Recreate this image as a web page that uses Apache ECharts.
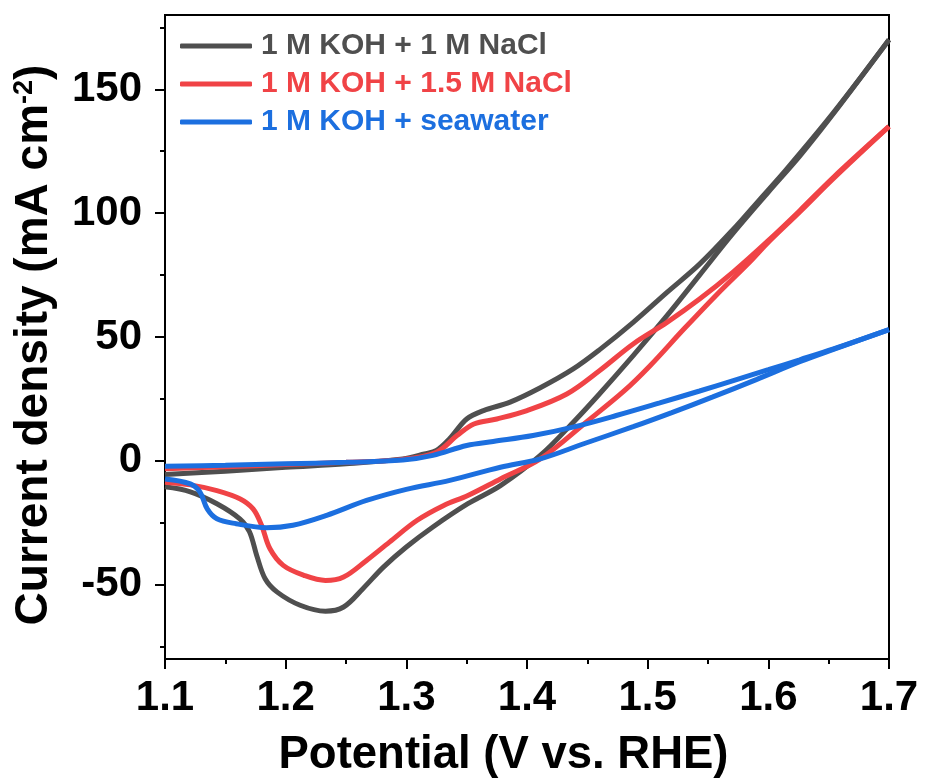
<!DOCTYPE html>
<html>
<head>
<meta charset="utf-8">
<script src="https://cdn.jsdelivr.net/npm/echarts@6/dist/echarts.min.js"></script>
<style>
html,body{margin:0;padding:0;background:#fff;}
#chart{width:925px;height:783px;}
</style>
</head>
<body>
<div id="chart"></div>
<script>
// Series names
const seriesNames = ['1 M KOH + 1 M NaCl', '1 M KOH + 1.5 M NaCl', '1 M KOH + seawater'];
const seriesColors = ['#4f4f4f', '#f04346', '#1c6fdf'];

// 1 M KOH + 1 M NaCl : anodic (forward) scan [V, mA cm-2]
const nacl1Forward = [
  [1.100,-5.5],[1.150,-4.2],[1.200,-2.6],[1.250,-1.2],[1.297,0.8],[1.315,2.8],
  [1.325,4.2],[1.336,9.0],[1.350,16.9],[1.364,20.3],[1.386,23.7],[1.411,29.5],
  [1.438,37.0],[1.460,44.8],[1.488,55.9],[1.516,68.0],[1.543,79.4],[1.571,93.5],
  [1.593,105.6],[1.615,117.7],[1.654,140.6],[1.700,170.0]
];
// 1 M KOH + 1 M NaCl : cathodic (reverse) scan
const nacl1Reverse = [
  [1.700,170.0],[1.654,140.2],[1.626,123.0],[1.600,108.5],[1.571,92.0],[1.543,75.0],
  [1.516,58.6],[1.488,42.5],[1.460,27.0],[1.438,15.4],[1.411,2.2],[1.378,-10.0],
  [1.351,-17.3],[1.322,-26.7],[1.300,-34.8],[1.281,-42.9],[1.264,-51.6],[1.248,-59.0],
  [1.233,-60.7],[1.212,-58.3],[1.193,-53.0],[1.183,-47.6],[1.176,-38.2],[1.170,-28.6],
  [1.162,-23.4],[1.143,-17.3],[1.121,-12.5],[1.100,-10.5]
];

// 1 M KOH + 1.5 M NaCl : anodic (forward) scan
const nacl15Forward = [
  [1.100,-3.2],[1.150,-2.4],[1.200,-1.5],[1.250,-0.6],[1.297,0.6],[1.325,3.5],
  [1.342,10.2],[1.356,14.9],[1.375,16.9],[1.400,20.3],[1.433,27.0],[1.460,36.4],
  [1.488,47.2],[1.516,55.9],[1.543,65.3],[1.571,76.3],[1.599,88.5],[1.626,101.0],
  [1.654,114.5],[1.700,135.0]
];
// 1 M KOH + 1.5 M NaCl : cathodic (reverse) scan
const nacl15Reverse = [
  [1.700,135.0],[1.654,114.0],[1.626,100.5],[1.599,87.8],[1.585,80.5],[1.557,67.0],
  [1.530,53.2],[1.502,38.4],[1.480,28.0],[1.449,15.6],[1.411,0.8],[1.378,-7.3],
  [1.351,-14.0],[1.331,-18.0],[1.309,-24.0],[1.286,-32.8],[1.267,-40.2],[1.248,-46.9],
  [1.233,-48.3],[1.215,-46.2],[1.198,-42.2],[1.187,-35.5],[1.180,-26.0],[1.173,-19.4],
  [1.162,-15.3],[1.143,-12.0],[1.121,-9.7],[1.100,-8.6]
];

// 1 M KOH + seawater : anodic (forward) scan
const seaForward = [
  [1.100,-2.2],[1.150,-1.8],[1.200,-1.2],[1.250,-0.6],[1.297,0.3],[1.322,2.2],
  [1.350,6.2],[1.372,7.8],[1.405,10.2],[1.438,13.6],[1.474,18.3],[1.510,23.4],
  [1.543,28.2],[1.571,32.4],[1.600,36.8],[1.626,40.8],[1.654,45.2],[1.700,53.0]
];
// 1 M KOH + seawater : cathodic (reverse) scan
const seaReverse = [
  [1.700,53.0],[1.654,45.0],[1.626,40.0],[1.590,32.8],[1.554,25.8],[1.520,19.5],
  [1.488,13.8],[1.447,6.9],[1.411,0.8],[1.378,-2.6],[1.336,-7.9],
  [1.300,-11.5],[1.267,-16.0],[1.234,-22.0],[1.206,-26.0],[1.184,-27.0],[1.159,-25.4],
  [1.143,-23.4],[1.135,-19.4],[1.129,-12.6],[1.121,-9.3],[1.100,-7.3]
];

// Axis ticks
const yMajorTicks = [-50, 0, 50, 100, 150];
const yMinorTicks = [-75, -25, 25, 75, 125, 175];
const xRange = [1.1, 1.7];
const yRange = [-80, 180];

const branches = [
  [nacl1Forward, nacl1Reverse],
  [nacl15Forward, nacl15Reverse],
  [seaForward, seaReverse]
];

const FONT = "'Liberation Sans', Arial, Helvetica, sans-serif";
const chart = echarts.init(document.getElementById('chart'), null, {renderer: 'canvas'});

const series = [];
seriesNames.forEach((n, i) => {
  branches[i].forEach(data => {
    series.push({
      name: n,
      type: 'line',
      xAxisIndex: 0, yAxisIndex: 0,
      data: data,
      smooth: 0.35,
      showSymbol: false, symbol: 'none',
      lineStyle: {color: seriesColors[i], width: 5},
      itemStyle: {color: seriesColors[i]},
      z: 2 + i
    });
  });
});

const option = {
  animation: false,
  backgroundColor: '#ffffff',
  grid: {
    left: 165, right: 36, top: 15, bottom: 123,
    show: true, borderColor: '#000', borderWidth: 2, backgroundColor: 'transparent'
  },
  legend: {
    orient: 'vertical',
    left: 175, top: 26,
    itemWidth: 72, itemHeight: 5, itemGap: 8,
    icon: 'roundRect',
    selectedMode: false,
    textStyle: {fontFamily: FONT, fontSize: 30, fontWeight: 'bold', lineHeight: 30, padding: [0,0,0,4]},
    data: seriesNames.map((n, i) => ({name: n, textStyle: {color: seriesColors[i]}}))
  },
  xAxis: {
    type: 'value',
    min: xRange[0], max: xRange[1], interval: 0.1,
    name: 'Potential (V vs. RHE)',
    nameLocation: 'middle', nameGap: 73,
    nameTextStyle: {fontFamily: FONT, fontSize: 45.5, fontWeight: 'bold', color: '#000', padding: [0, 47, 0, 0]},
    axisLine: {show: true, onZero: false, lineStyle: {color: '#000', width: 2}},
    axisTick: {show: true, inside: false, length: 10, lineStyle: {color: '#000', width: 2}},
    minorTick: {show: true, splitNumber: 2, length: 5, lineStyle: {color: '#000', width: 2}},
    axisLabel: {
      margin: 18, fontFamily: FONT, fontSize: 42, fontWeight: 'bold', color: '#000',
      formatter: v => v.toFixed(1)
    },
    splitLine: {show: false}, minorSplitLine: {show: false}
  },
  yAxis: [
    {
      type: 'value',
      min: yRange[0], max: yRange[1],
      name: 'Current density (mA cm{sup|-2})',
      nameLocation: 'middle', nameGap: 108, nameRotate: 90,
      nameTextStyle: {
        fontFamily: FONT, fontSize: 46, fontWeight: 'bold', color: '#000', padding: [0, 16, 0, 0],
        rich: {sup: {fontFamily: FONT, fontSize: 27, fontWeight: 'bold', color: '#000', verticalAlign: 'top', lineHeight: 46}}
      },
      axisLine: {show: true, onZero: false, lineStyle: {color: '#000', width: 2}},
      axisTick: {show: true, inside: false, length: 10, lineStyle: {color: '#000', width: 2}, customValues: yMajorTicks},
      axisLabel: {
        margin: 23, fontFamily: FONT, fontSize: 42, fontWeight: 'bold', color: '#000',
        customValues: yMajorTicks
      },
      splitLine: {show: false}
    },
    {
      type: 'value',
      min: yRange[0], max: yRange[1],
      position: 'left',
      axisLine: {show: false, onZero: false},
      axisTick: {show: true, inside: false, length: 5, lineStyle: {color: '#000', width: 2}, customValues: yMinorTicks},
      axisLabel: {show: false, customValues: yMinorTicks},
      splitLine: {show: false}
    }
  ],
  series: series
};
chart.setOption(option);
</script>
</body>
</html>
